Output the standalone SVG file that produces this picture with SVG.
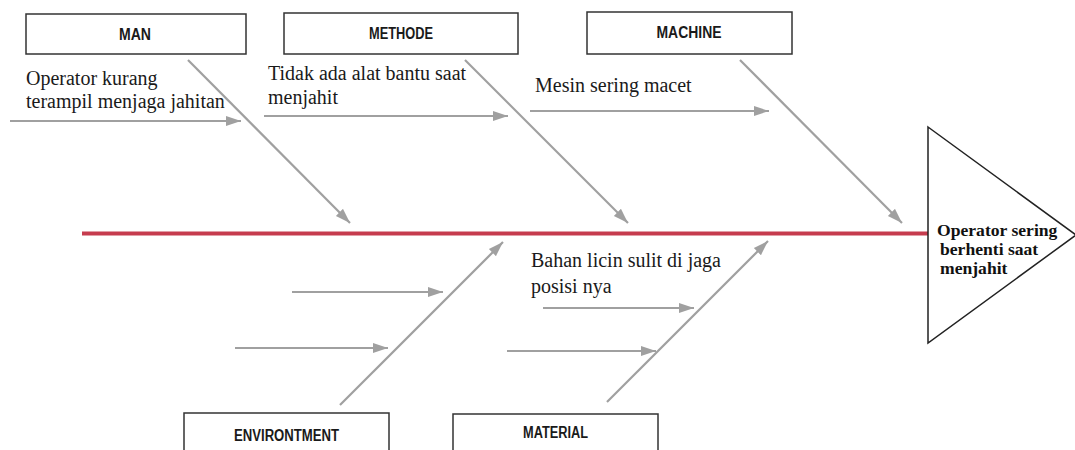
<svg xmlns="http://www.w3.org/2000/svg" width="1075" height="450" viewBox="0 0 1075 450">
  <style>
    .box { fill: #ffffff; stroke: #333333; stroke-width: 1.5; }
    .cat { font-family: "Liberation Sans", Arial, sans-serif; font-size: 16px; font-weight: bold; fill: #1a1a1a; text-anchor: middle; }
    .cause { font-family: "Liberation Serif", "Times New Roman", serif; font-size: 20px; fill: #1a1a1a; }
    .effect { font-family: "Liberation Serif", "Times New Roman", serif; font-size: 17.6px; font-weight: bold; fill: #111111; }
    .bone { stroke: #a0a0a0; stroke-width: 2.2; fill: none; marker-end: url(#arrow); }
  </style>
  <defs>
    <marker id="arrow" markerUnits="userSpaceOnUse" markerWidth="16" markerHeight="12" refX="15" refY="6" orient="auto">
      <path d="M0,1 L15,6 L0,11 Z" fill="#a0a0a0"/>
    </marker>
  </defs>
  <rect width="1075" height="450" fill="#ffffff"/>

  <!-- connectors: spine, category bones and cause arrows -->
  <g id="connectors">
    <line x1="82" y1="233.5" x2="928" y2="233.5" stroke="#c63c4e" stroke-width="4"/>
    <!-- upper bones -->
    <line class="bone" x1="188" y1="60" x2="350" y2="223"/>
    <line class="bone" x1="465" y1="60" x2="628" y2="223"/>
    <line class="bone" x1="740" y1="60" x2="902" y2="223"/>
    <!-- lower bones -->
    <line class="bone" x1="340" y1="405" x2="503" y2="242"/>
    <line class="bone" x1="607" y1="402" x2="768" y2="241"/>
    <!-- cause arrows -->
    <line class="bone" x1="10" y1="121" x2="241" y2="121"/>
    <line class="bone" x1="264" y1="116" x2="508" y2="116"/>
    <line class="bone" x1="530" y1="111" x2="769" y2="111"/>
    <line class="bone" x1="292" y1="292" x2="443" y2="292"/>
    <line class="bone" x1="235" y1="348" x2="388" y2="348"/>
    <line class="bone" x1="543" y1="308" x2="694" y2="308"/>
    <line class="bone" x1="507" y1="351" x2="656" y2="351"/>
  </g>

  <g id="man">
    <rect class="box" x="26" y="14" width="220" height="40"/>
    <text class="cat" x="135" y="40" textLength="32" lengthAdjust="spacingAndGlyphs">MAN</text>
    <text class="cause" x="26" y="85">Operator kurang</text>
    <text class="cause" x="26" y="108">terampil menjaga jahitan</text>
  </g>

  <g id="methode">
    <rect class="box" x="284" y="13" width="234" height="41"/>
    <text class="cat" x="401" y="38.5" textLength="64" lengthAdjust="spacingAndGlyphs">METHODE</text>
    <text class="cause" x="268" y="80">Tidak ada alat bantu saat</text>
    <text class="cause" x="268" y="104">menjahit</text>
  </g>

  <g id="machine">
    <rect class="box" x="587" y="12" width="205" height="42"/>
    <text class="cat" x="689" y="38" textLength="65" lengthAdjust="spacingAndGlyphs">MACHINE</text>
    <text class="cause" x="535" y="92">Mesin sering macet</text>
  </g>

  <g id="environtment">
    <rect class="box" x="184" y="413" width="205" height="45"/>
    <text class="cat" x="286.5" y="441" textLength="105" lengthAdjust="spacingAndGlyphs">ENVIRONTMENT</text>
  </g>

  <g id="material">
    <rect class="box" x="453" y="414" width="205" height="45"/>
    <text class="cat" x="555.5" y="438" textLength="65" lengthAdjust="spacingAndGlyphs">MATERIAL</text>
    <text class="cause" x="531" y="267">Bahan licin sulit di jaga</text>
    <text class="cause" x="531" y="293">posisi nya</text>
  </g>

  <g id="effect">
    <polygon points="928,127 1076,235 928,343" fill="#ffffff" stroke="#222222" stroke-width="1.5"/>
    <text class="effect" x="937" y="236">Operator sering</text>
    <text class="effect" x="940" y="255">berhenti saat</text>
    <text class="effect" x="940" y="274">menjahit</text>
  </g>
</svg>
